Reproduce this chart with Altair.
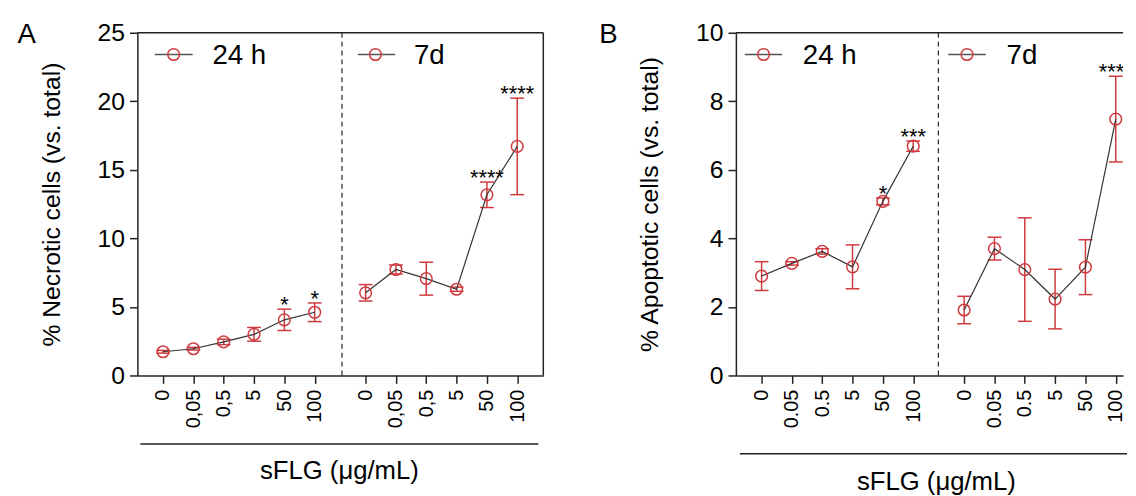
import altair as alt
import pandas as pd

# ---------------- data ----------------
doses_a = ["0", "0,05", "0,5", "5", "50", "100"]
doses_b = ["0", "0.05", "0.5", "5", "50", "100"]
groups = ["24 h", "7d"]

nec_24_mean = [1.73, 1.95, 2.45, 3.00, 4.06, 4.61]
nec_24_err = [0.10, 0.10, 0.20, 0.50, 0.78, 0.68]
nec_24_sig = ["", "", "", "", "*", "*"]
nec_7d_mean = [6.03, 7.73, 7.06, 6.29, 13.18, 16.71]
nec_7d_err = [0.60, 0.32, 1.20, 0.15, 0.93, 3.52]
nec_7d_sig = ["", "", "", "", "****", "****"]

apo_24_mean = [2.90, 3.27, 3.62, 3.17, 5.08, 6.69]
apo_24_err = [0.42, 0.05, 0.08, 0.64, 0.10, 0.15]
apo_24_sig = ["", "", "", "", "*", "***"]
apo_7d_mean = [1.91, 3.70, 3.09, 2.23, 3.16, 7.48]
apo_7d_err = [0.40, 0.33, 1.51, 0.87, 0.80, 1.25]
apo_7d_sig = ["", "", "", "", "", "****"]

x_title = "sFLG (\u03bcg/mL)"

# ---------------- style ----------------
FONT = "Liberation Sans"
RED = "#cf3a3f"
DARK = "#222222"
H = 347
GAP = 6.68          # offset of the second group on the x scale
XMIN = -0.847


def build_df(doses, m24, e24, s24, m7, e7, s7):
    rows = []
    for g, (m, e, s) in zip(groups, [(m24, e24, s24), (m7, e7, s7)]):
        off = 0 if g == groups[0] else GAP
        for i, d in enumerate(doses):
            rows.append({"pos": round(off + i, 2), "dose": d, "group": g,
                         "mean": m[i], "lo": m[i] - e[i], "hi": m[i] + e[i],
                         "sig": s[i]})
    return pd.DataFrame(rows)


def one(**kw):
    return pd.DataFrame({k: [v] for k, v in kw.items()} or {"k": [0]})


def panel(df, doses, W, xmax, divider, ymax, ystep, ytitle, letter,
          letter_x, leg, xline, xtext, right_border):
    positions = [float(p) for p in df["pos"]]
    labels = list(df["dose"])
    expr = ("[" + ",".join("'%s'" % l for l in labels) + "][indexof(["
            + ",".join(str(p) for p in positions) + "], datum.value)]")
    xs = alt.Scale(domain=[XMIN, xmax], nice=False, zero=False)
    ys = alt.Scale(domain=[0, ymax], nice=False, zero=True)
    xaxis = alt.Axis(values=positions, tickCount=40, labelExpr=expr, labelAngle=270,
                     labelFontSize=20, labelPadding=6, tickSize=8,
                     tickWidth=1.5, tickColor=DARK, domainColor=DARK,
                     domainWidth=1.5, labelColor="black", grid=False,
                     labelFlush=False, labelOverlap=False, title=None)
    yvals = list(range(0, ymax + 1, ystep))
    yaxis = alt.Axis(values=yvals, tickCount=20, tickSize=8, tickWidth=1.5, tickColor=DARK,
                     domainColor=DARK, domainWidth=1.5, labelFontSize=25,
                     labelPadding=5, labelColor="black", grid=False,
                     labelFlush=False, labelOverlap=False, format="d",
                     title=ytitle, titleFontSize=25, titleFontWeight="normal",
                     titleColor="black", titleX=-87, titleY=H / 2,
                     titleAngle=270, titleAlign="center",
                     titleBaseline="middle")

    base = alt.Chart(df)
    x = alt.X("pos:Q", scale=xs, axis=xaxis)
    err = base.mark_rule(color=RED, strokeWidth=1.5).encode(
        x=x, y=alt.Y("lo:Q", scale=ys, axis=yaxis), y2="hi:Q")
    cap_lo = base.mark_tick(color=RED, orient="horizontal", size=14,
                            thickness=1.5, opacity=1).encode(x="pos:Q", y="lo:Q")
    cap_hi = base.mark_tick(color=RED, orient="horizontal", size=14,
                            thickness=1.5, opacity=1).encode(x="pos:Q", y="hi:Q")
    line = base.mark_line(color="#333333", strokeWidth=1.2).encode(
        x="pos:Q", y="mean:Q", detail="group:N")
    pts = base.mark_point(shape="circle", filled=False, size=140, color=RED,
                          strokeWidth=1.5, opacity=1).encode(x="pos:Q", y="mean:Q")
    stars = base.mark_text(fontSize=22, font=FONT, baseline="alphabetic",
                           dy=3, color="black", clip=True).encode(
        x="pos:Q", y="hi:Q", text="sig:N")

    div = alt.Chart(one(d=divider)).mark_rule(
        color=DARK, strokeWidth=1.2, strokeDash=[5, 4]).encode(
        x="d:Q", y=alt.value(0), y2=alt.value(H))
    top = alt.Chart(one()).mark_rule(color=DARK, strokeWidth=1.5).encode(
        x=alt.value(0), x2=alt.value(W), y=alt.value(0))
    layers = [err, cap_lo, cap_hi, line, pts, stars, div, top]
    if right_border:
        layers.append(alt.Chart(one()).mark_rule(color=DARK, strokeWidth=1.5).encode(
            x=alt.value(W), y=alt.value(0), y2=alt.value(H)))

    # legend entries (one per half)
    for g, (lx1, lcx, lx2, tx) in zip(groups, leg):
        d = one(t=g)
        layers.append(alt.Chart(d).mark_rule(color="#555555", strokeWidth=1.5).encode(
            x=alt.value(lx1), x2=alt.value(lx2), y=alt.value(22)))
        layers.append(alt.Chart(d).mark_point(shape="circle", filled=False, size=140,
                                              color=RED, strokeWidth=1.5, opacity=1).encode(
            x=alt.value(lcx), y=alt.value(22)))
        layers.append(alt.Chart(d).mark_text(fontSize=28, font=FONT, align="left",
                                             baseline="alphabetic", color="black").encode(
            x=alt.value(tx), y=alt.value(31.5), text="t:N"))

    # panel letter
    layers.append(alt.Chart(one(t=letter)).mark_text(
        fontSize=28, font=FONT, align="center", baseline="middle", color="black").encode(
        x=alt.value(letter_x), y=alt.value(2), text="t:N"))

    # x-axis group line and title
    xl1, xl2, xly = xline
    layers.append(alt.Chart(one()).mark_rule(color=DARK, strokeWidth=1.5).encode(
        x=alt.value(xl1), x2=alt.value(xl2), y=alt.value(xly)))
    xtx, xty = xtext
    layers.append(alt.Chart(one(t=x_title)).mark_text(
        fontSize=26, font=FONT, align="center", baseline="alphabetic", color="black").encode(
        x=alt.value(xtx), y=alt.value(xty), text="t:N"))

    return alt.layer(*layers).properties(width=W, height=H)


df_a = build_df(doses_a, nec_24_mean, nec_24_err, nec_24_sig,
                nec_7d_mean, nec_7d_err, nec_7d_sig)
df_b = build_df(doses_b, apo_24_mean, apo_24_err, apo_24_sig,
                apo_7d_mean, apo_7d_err, apo_7d_sig)

WA = 411
WB = 392
pxu = WA / (12.54 - XMIN)

chart_a = panel(df_a, doses_a, WA, 12.54, 5.9, 25, 5,
                "% Necrotic cells (vs. total)", "A", -112,
                [(17.7, 36.7, 56, 76), (223.3, 241, 261, 280)],
                (3, 406, 416.3), (204.5, 451.5), True)
chart_b = panel(df_b, doses_b, WB, XMIN + WB / pxu, 5.83, 10, 2,
                "% Apoptotic cells (vs. total)", "B", -129,
                [(9, 28, 46.7, 67.7), (215, 234, 253, 274)],
                (4, 396, 426.3), (203, 463), False)

chart = alt.hconcat(chart_a, chart_b, spacing=55).properties(
    padding={"left": 9, "top": 10, "right": 0, "bottom": 0},
    background="white",
).configure_view(strokeWidth=0).configure_axis(labelFont=FONT, titleFont=FONT)

chart.save("out.html", embed_options={"renderer": "svg", "actions": False})
